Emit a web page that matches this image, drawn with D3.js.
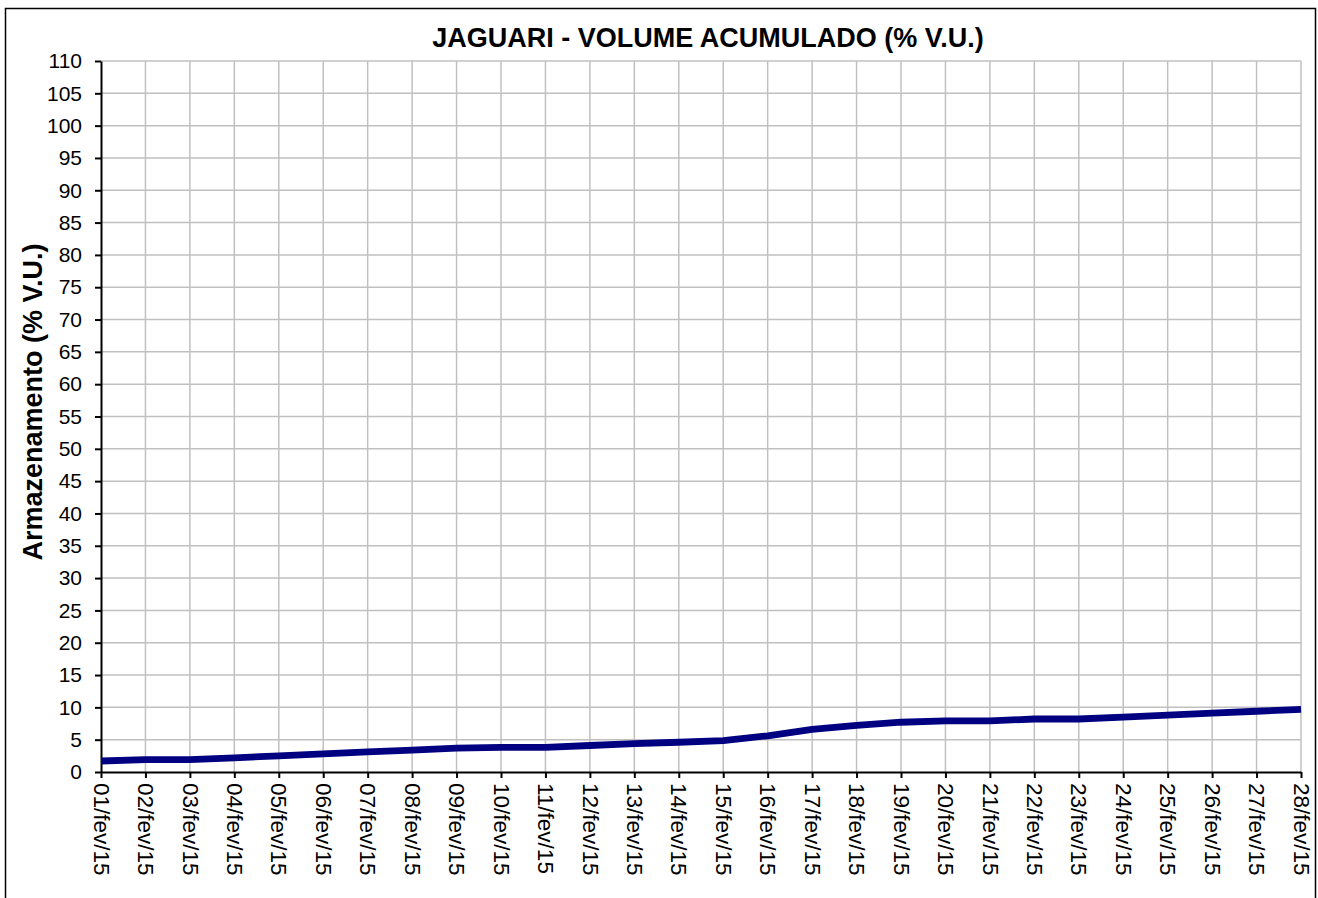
<!doctype html>
<html>
  <head>
    <script src="https://cdnjs.cloudflare.com/ajax/libs/d3/7.8.5/d3.min.js"></script>
    <style>
      body { margin: 0; background: #fff; }
      text { font-family: "Liberation Sans", Arial, sans-serif; }
    </style>
  </head>
  <body>
    <svg width="1318" height="898"></svg>
    <script>
        // dias de fevereiro/2015
        var days = ["01/fev/15","02/fev/15","03/fev/15","04/fev/15","05/fev/15","06/fev/15","07/fev/15",
                    "08/fev/15","09/fev/15","10/fev/15","11/fev/15","12/fev/15","13/fev/15","14/fev/15",
                    "15/fev/15","16/fev/15","17/fev/15","18/fev/15","19/fev/15","20/fev/15","21/fev/15",
                    "22/fev/15","23/fev/15","24/fev/15","25/fev/15","26/fev/15","27/fev/15","28/fev/15"];
        var volume = [1.7, 1.9, 1.9, 2.2, 2.5, 2.8, 3.1, 3.4, 3.7, 3.8, 3.8, 4.1, 4.4, 4.6,
                      4.85, 5.6, 6.6, 7.2, 7.7, 7.9, 7.9, 8.2, 8.2, 8.5, 8.8, 9.1, 9.4, 9.7];
        var yTicks = d3.range(0, 111, 5);

        var svg = d3.select("svg");
        var pLeft = 101, pRight = 1301, pTop = 61, pBottom = 772;

        svg.append("rect")
            .attr("x", 5.5).attr("y", 8.5)
            .attr("width", 1310).attr("height", 900)
            .attr("fill", "none").attr("stroke", "#000").attr("stroke-width", 1.5);

        var xScale = d3.scalePoint().domain(days).range([pLeft, pRight]);
        var yScale = d3.scaleLinear().domain([0, 110]).range([pBottom, pTop]);

        // grade
        svg.append("g").selectAll("line")
            .data(yTicks.slice(1))
            .enter().append("line")
            .attr("x1", pLeft).attr("x2", pRight)
            .attr("y1", d => yScale(d)).attr("y2", d => yScale(d))
            .attr("stroke", "#c0c0c0").attr("stroke-width", 1.5);

        svg.append("g").selectAll("line")
            .data(days.slice(1))
            .enter().append("line")
            .attr("x1", d => xScale(d)).attr("x2", d => xScale(d))
            .attr("y1", pTop).attr("y2", pBottom)
            .attr("stroke", "#c0c0c0").attr("stroke-width", 1.5);

        var yAxis = d3.axisLeft(yScale).tickValues(yTicks).tickSize(6).tickSizeOuter(0).tickPadding(13);
        var gy = svg.append("g").attr("transform", "translate(" + pLeft + ",0)").call(yAxis);
        gy.select(".domain").attr("stroke-width", 2);
        gy.selectAll(".tick line").attr("stroke-width", 2);
        gy.selectAll("text").attr("font-size", 21).attr("fill", "#000");

        var xAxis = d3.axisBottom(xScale).tickSize(6).tickSizeOuter(0);
        var gx = svg.append("g").attr("transform", "translate(0," + pBottom + ")").call(xAxis);
        gx.select(".domain").attr("stroke-width", 2);
        gx.selectAll(".tick line").attr("stroke-width", 2);
        gx.selectAll("text")
            .attr("font-size", 22.5).attr("fill", "#000")
            .attr("transform", "rotate(90)")
            .attr("x", 11).attr("y", 0).attr("dy", "0.35em")
            .style("text-anchor", "start");

        var line = d3.line()
            .x((d, i) => xScale(days[i]))
            .y(d => yScale(d));

        svg.append("path")
            .datum(volume)
            .attr("d", line)
            .attr("fill", "none")
            .attr("stroke", "#000080")
            .attr("stroke-width", 6.8)
            .attr("stroke-linejoin", "round");

        svg.append("text")
            .attr("x", 708).attr("y", 47)
            .attr("text-anchor", "middle")
            .attr("font-size", 27).attr("font-weight", "bold")
            .text("JAGUARI - VOLUME ACUMULADO (% V.U.)");

        svg.append("text")
            .attr("transform", "translate(42,402) rotate(-90)")
            .attr("text-anchor", "middle")
            .attr("font-size", 27).attr("font-weight", "bold")
            .text("Armazenamento (% V.U.)");
    </script>
  </body>
</html>
